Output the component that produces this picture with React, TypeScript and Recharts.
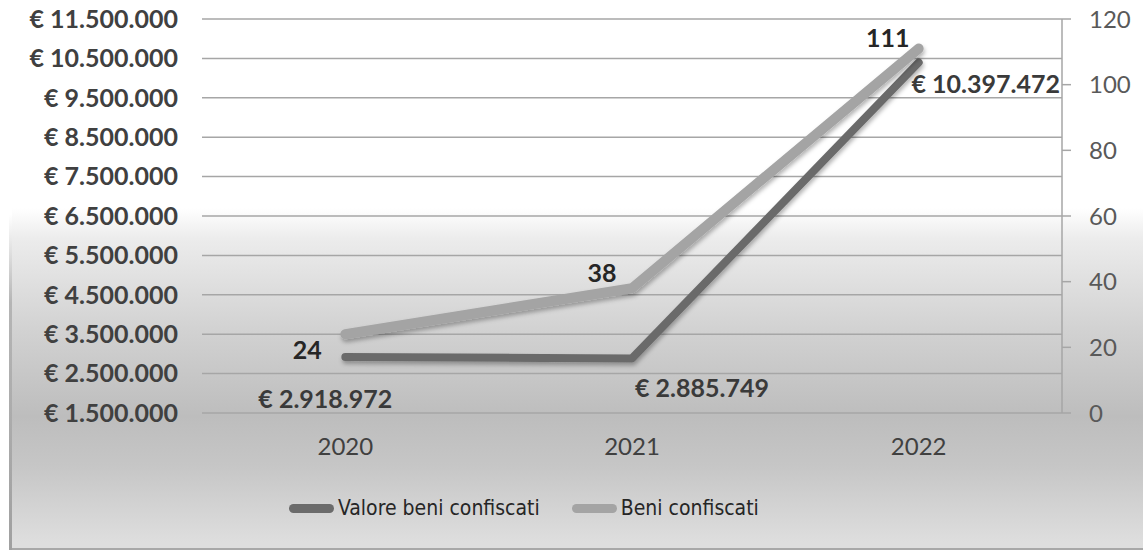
import { CartesianGrid, ComposedChart, LabelList, Legend, Line, XAxis, YAxis } from "recharts";

const years = ["2020", "2021", "2022"];
const valoreBeni = [2918972, 2885749, 10397472];
const beniConfiscati = [24, 38, 111];
const euroTicks = [1500000, 2500000, 3500000, 4500000, 5500000, 6500000, 7500000, 8500000, 9500000, 10500000, 11500000];
const countTicks = [0, 20, 40, 60, 80, 100, 120];

// label nudges (px) relative to each point, per year
const valoreLabelShift = [[-20, 41], [70, 29], [67, 21]];
const beniLabelShift = [[-38, 15], [-30, -16], [-31, -12]];

const data = years.map((year, i) => ({
  year,
  valore: valoreBeni[i],
  beni: beniConfiscati[i],
}));

const DARK = "#6b6b6b";
const LIGHT = "#a4a4a4";
const FONT = "Lato, 'Open Sans', sans-serif";

const euro = (v: number) => "€ " + String(v).replace(/\B(?=(\d{3})+(?!\d))/g, ".");

function makeLabel(shift: number[][], fmt: (v: number) => string, color: string) {
  return (props: any) => {
    const { x, y, value, index } = props;
    const [dx, dy] = shift[index] ?? [0, 0];
    return (
      <text
        x={x + dx}
        y={y + dy}
        textAnchor="middle"
        dominantBaseline="central"
        fontFamily={FONT}
        fontSize={25}
        fontWeight={700}
        fill={color}
      >
        {fmt(value)}
      </text>
    );
  };
}

function ChartLegend() {
  const items = [
    { name: "Valore beni confiscati", color: DARK },
    { name: "Beni confiscati", color: LIGHT },
  ];
  return (
    <div style={{ height: 40, display: "flex", alignItems: "center", paddingLeft: 289 }}>
      {items.map((it) => (
        <div key={it.name} style={{ display: "flex", alignItems: "center", marginRight: 32 }}>
          <span style={{ width: 45, height: 9, borderRadius: 5, background: it.color, marginRight: 4 }} />
          <span
            style={{
              fontFamily: "'Liberation Sans Narrow', 'DejaVu Sans Condensed', sans-serif",
              fontSize: 21,
              color: "#262626",
            }}
          >
            {it.name}
          </span>
        </div>
      ))}
    </div>
  );
}

export default function App() {
  return (
    <div style={{ position: "fixed", left: 0, top: 0, width: 1143, height: 551, background: "#fff", overflow: "hidden" }}>
      <svg width={0} height={0} style={{ position: "absolute" }}>
        <defs>
          <filter id="lineShadow" x="-10%" y="-10%" width="120%" height="130%">
            <feDropShadow dx="1" dy="3" stdDeviation="2" floodColor="#000" floodOpacity="0.3" />
          </filter>
        </defs>
      </svg>
      <div
        style={{
          position: "absolute",
          left: 12,
          top: 0,
          width: 1131,
          height: 548,
          background:
            "linear-gradient(to bottom, #ffffff 0%, #ffffff 38%, #ececec 43.5%, #d2d2d2 60%, #bdbdbd 76%, #c6c6c6 85%, #dedede 99%)",
          borderBottom: "2px solid #a8a8a8",
        }}
      />
      <div
        style={{
          position: "absolute",
          left: 9,
          top: 0,
          width: 3,
          height: 550,
          background: "linear-gradient(to bottom, #ffffff 0%, #ffffff 39%, #b5b5b5 55%, #a0a0a0 100%)",
        }}
      />
      <div style={{ position: "absolute", left: 0, top: 0 }}>
        <ComposedChart width={1143} height={551} data={data} margin={{ top: 19, right: 0, bottom: 23, left: 0 }}>
          <CartesianGrid yAxisId="euro" vertical={false} stroke="#a6a6a6" strokeWidth={1.5} />
          <XAxis
            dataKey="year"
            scale="band"
            axisLine={false}
            tickLine={false}
            tickMargin={19}
            height={75}
            tick={{ fontFamily: FONT, fontSize: 24, fill: "#404040" }}
          />
          <YAxis
            yAxisId="euro"
            orientation="left"
            width={202}
            domain={[1500000, 11500000]}
            ticks={euroTicks}
            interval={0}
            axisLine={false}
            tickLine={false}
            tickMargin={18}
            tickFormatter={euro}
            tick={{ fontFamily: FONT, fontSize: 25, fontWeight: 700, fill: "#404040" }}
          />
          <YAxis
            yAxisId="count"
            orientation="right"
            width={81}
            domain={[0, 120]}
            ticks={countTicks}
            interval={0}
            axisLine={{ stroke: "#a6a6a6", strokeWidth: 1.5 }}
            tickLine={{ stroke: "#a6a6a6", strokeWidth: 1.5 }}
            tickSize={9}
            tickMargin={18}
            tick={{ fontFamily: FONT, fontSize: 24, fill: "#595959" }}
          />
          <Legend verticalAlign="bottom" content={() => <ChartLegend />} />
          <Line
            yAxisId="euro"
            dataKey="valore"
            name="Valore beni confiscati"
            stroke={DARK}
            strokeWidth={8}
            strokeLinecap="round"
            strokeLinejoin="round"
            filter="url(#lineShadow)"
            dot={false}
            activeDot={false}
            isAnimationActive={false}
          >
            <LabelList dataKey="valore" content={makeLabel(valoreLabelShift, euro, "#3a3a3a")} />
          </Line>
          <Line
            yAxisId="count"
            dataKey="beni"
            name="Beni confiscati"
            stroke={LIGHT}
            strokeWidth={10}
            strokeLinecap="round"
            strokeLinejoin="round"
            filter="url(#lineShadow)"
            dot={false}
            activeDot={false}
            isAnimationActive={false}
          >
            <LabelList dataKey="beni" content={makeLabel(beniLabelShift, String, "#262626")} />
          </Line>
        </ComposedChart>
      </div>
    </div>
  );
}
